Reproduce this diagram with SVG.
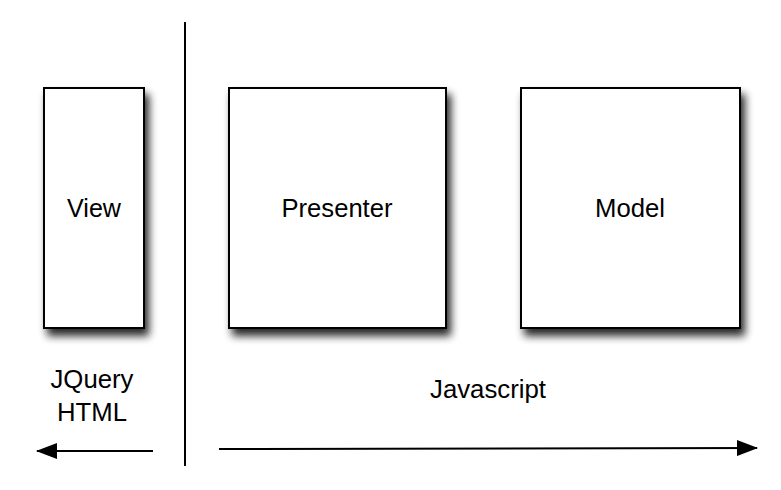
<svg xmlns="http://www.w3.org/2000/svg" width="781" height="490" viewBox="0 0 781 490">
<style>
.box{fill:#fff;stroke:#000;stroke-width:2}
.lbl{font-family:"Liberation Sans",Arial,sans-serif;font-size:25px;fill:#000;text-anchor:middle}
.ln{stroke:#000;stroke-width:2;fill:none}
</style>
<defs>
<filter id="sh" x="-20%" y="-20%" width="150%" height="150%">
<feGaussianBlur in="SourceAlpha" stdDeviation="4"/>
<feOffset dx="4" dy="7" result="b"/>
<feComponentTransfer><feFuncA type="linear" slope="0.85"/></feComponentTransfer>
<feMerge><feMergeNode/><feMergeNode in="SourceGraphic"/></feMerge>
</filter>
<marker id="ah" markerWidth="21" markerHeight="16" refX="20" refY="8" orient="auto" markerUnits="userSpaceOnUse">
<path d="M0,0 L21,8 L0,16 Z" fill="#000"/>
</marker>
</defs>
<rect width="781" height="490" fill="#fff"/>
<g id="view"><rect class="box" x="44" y="88" width="100" height="240" filter="url(#sh)"/><text class="lbl" x="94" y="217" textLength="54" lengthAdjust="spacingAndGlyphs">View</text></g>
<g id="presenter"><rect class="box" x="229" y="88" width="217" height="240" filter="url(#sh)"/><text class="lbl" x="337" y="217" textLength="111" lengthAdjust="spacingAndGlyphs">Presenter</text></g>
<g id="model"><rect class="box" x="521" y="88" width="219" height="240" filter="url(#sh)"/><text class="lbl" x="630" y="217" textLength="70" lengthAdjust="spacingAndGlyphs">Model</text></g>
<g id="labels">
<text class="lbl" x="92" y="388" textLength="83" lengthAdjust="spacingAndGlyphs">JQuery</text>
<text class="lbl" x="92" y="421" textLength="70" lengthAdjust="spacingAndGlyphs">HTML</text>
<text class="lbl" x="488" y="398" textLength="116" lengthAdjust="spacingAndGlyphs">Javascript</text>
</g>
<g id="connectors">
<line class="ln" x1="185" y1="22" x2="185" y2="466"/>
<line class="ln" x1="153" y1="451" x2="37" y2="451" marker-end="url(#ah)"/>
<line class="ln" x1="219" y1="449" x2="757" y2="448" marker-end="url(#ah)"/>
</g>
</svg>
